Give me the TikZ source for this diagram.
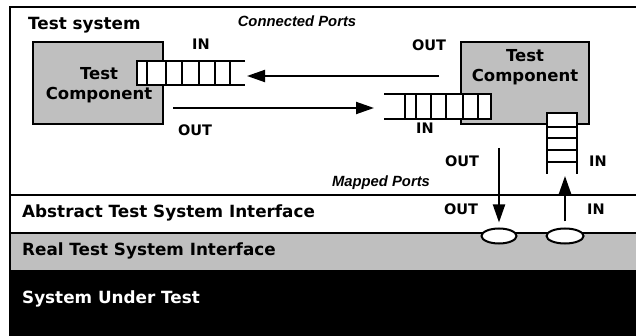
\documentclass[tikz,border=0pt]{standalone}
\usepackage{fontspec}
\setmainfont{DejaVu Sans}
\newfontfamily\capfont{Liberation Sans}
\usetikzlibrary{arrows.meta,shapes.geometric}
\begin{document}
\begin{tikzpicture}[x=1pt,y=-1pt,
  lab/.style={font=\fontsize{16.8}{19}\selectfont\bfseries, inner sep=0pt, anchor=west},
  comptext/.style={font=\fontsize{16.5}{20}\selectfont\bfseries, inner sep=0pt, align=center},
  port/.style={font=\fontsize{14.5}{16}\selectfont\bfseries, inner sep=0pt},
  caption/.style={font=\capfont\fontsize{14.8}{17}\selectfont\bfseries\itshape, inner sep=0pt},
  comp/.style={draw, line width=1.8pt, fill=black!25, inner sep=0pt},
  qline/.style={line width=2pt},
  flow/.style={line width=2pt, -{Triangle[length=18pt,width=12pt]}},
  mport/.style={ellipse, draw, line width=2pt, fill=white, minimum width=35pt, minimum height=15pt, inner sep=0pt}]
\useasboundingbox (0,0) rectangle (636,336);
\fill[white] (0,0) rectangle (636,336);

% layers of the interface stack
\fill[black!25] (10,233) rectangle (636,270);
\fill[black] (10,270) rectangle (636,336);
\draw[line width=1.5pt] (10,195) -- (636,195);
\draw[line width=2pt] (10,233) -- (636,233);
\draw[line width=2pt] (10,336) -- (10,7) -- (636,7);

\node[lab] (ts) at (28,25) {Test system};
\node[caption] (cp) at (297,21) {Connected Ports};
\node[caption] (mp) at (381,183) {Mapped Ports};
\node[lab] (atsi) at (22,213) {Abstract Test System Interface};
\node[lab] (rtsi) at (22,251) {Real Test System Interface};
\node[lab, text=white] (sut) at (22,299) {System Under Test};

% test components
\node[comp, minimum width=130pt, minimum height=82pt] (tcl) at (98,83) {};
\node[comp, minimum width=128pt, minimum height=82pt] (tcr) at (525,83) {};
\node[comptext] (tcltext) at (99,85) {Test\\Component};
\node[comptext] (tcrtext) at (525,67) {Test\\Component};

% queue of the left component (open to the right)
\draw[qline, fill=white] (245,61) -- (137,61) -- (137,85) -- (245,85);
\foreach \x in {147,166,182,199,215,230} \draw[qline] (\x,61) -- (\x,85);
% queue of the right component (open to the left)
\draw[qline, fill=white] (384,94) -- (491,94) -- (491,119) -- (384,119);
\foreach \x in {405,416,431,446,463,478} \draw[qline] (\x,94) -- (\x,119);
% vertical queue (open downwards)
\draw[qline, fill=white] (547,174) -- (547,113) -- (577,113) -- (577,174);
\foreach \y in {127,138,150,162} \draw[qline] (547,\y) -- (577,\y);

% mapped ports
\node[mport] (mout) at (499,236) {};
\node[mport, minimum width=37pt] (min) at (565,236) {};

% connector end points
\coordinate (routstart) at (439,76);
\coordinate (lqend) at (247,76);
\coordinate (loutstart) at (173,108);
\coordinate (rqend) at (374,108);
\coordinate (doutstart) at (499,148);
\coordinate (vqend) at (565,176);

\draw[flow] (routstart) -- (lqend);
\draw[flow] (loutstart) -- (rqend);
\draw[flow, shorten >=5pt] (doutstart) -- (mout.north);
\draw[flow, shorten <=6pt] (min.north) -- (vqend);

% port labels
\node[port] (lin) at (201,44) {IN};
\node[port] (lout) at (195,130) {OUT};
\node[port] (rout) at (429,45) {OUT};
\node[port] (rin) at (425,128) {IN};
\node[port] (vout) at (462,161) {OUT};
\node[port] (vin) at (598,161) {IN};
\node[port] (aout) at (461,209) {OUT};
\node[port] (ain) at (596,209) {IN};
\end{tikzpicture}
\end{document}
